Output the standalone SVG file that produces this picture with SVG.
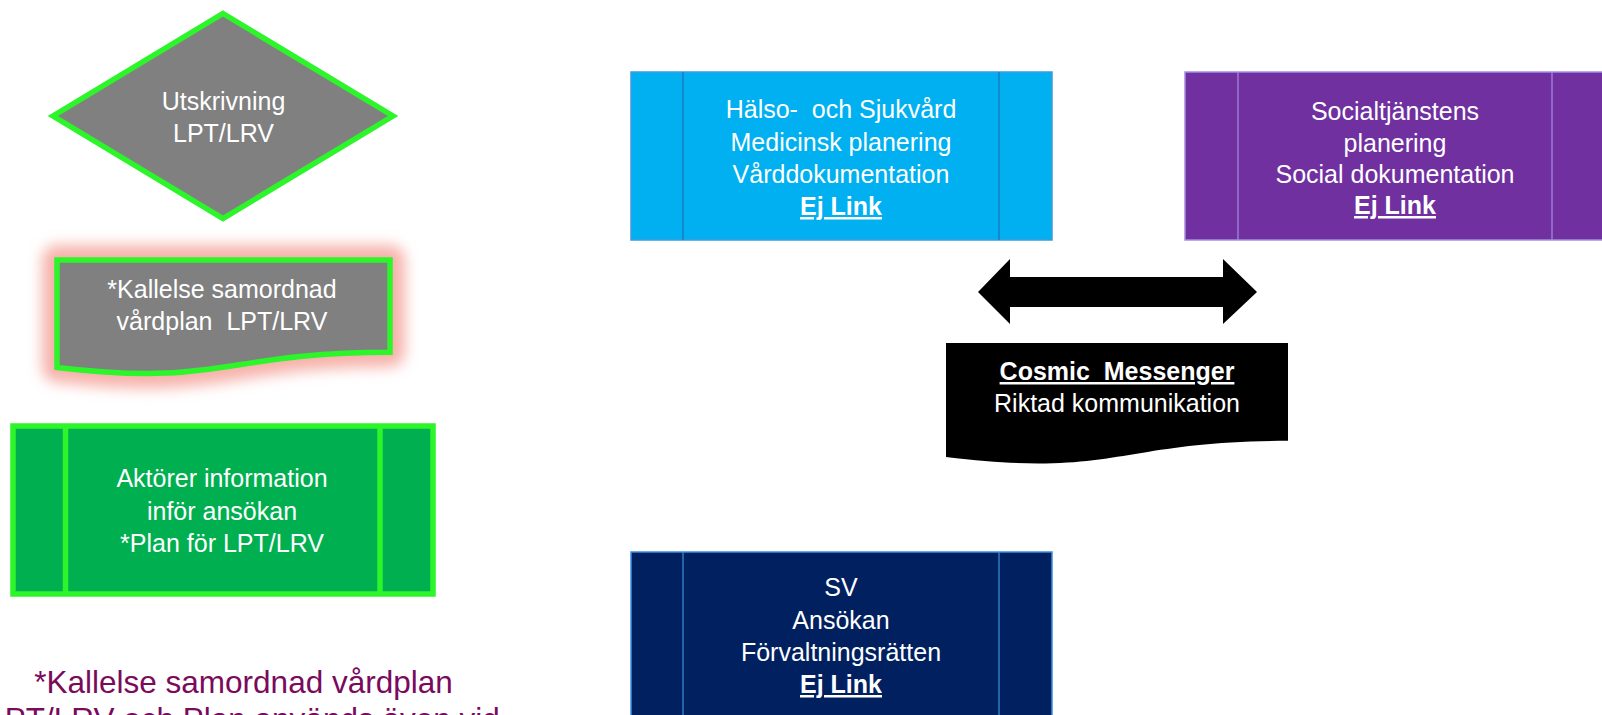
<svg xmlns="http://www.w3.org/2000/svg" width="1602" height="715" viewBox="0 0 1602 715">
<defs>
<style>
text{font-family:"Liberation Sans",Arial,sans-serif;font-size:25px;fill:#fff;text-anchor:middle}
.b{font-weight:bold;text-decoration:underline}
.gs{stroke:#2CF52A;stroke-width:5.5}
.note{fill:#7A0A5C;font-size:31.5px}
</style>
<filter id="glow" x="-20%" y="-40%" width="140%" height="180%">
<feGaussianBlur stdDeviation="7"/>
</filter>
</defs>
<rect width="1602" height="715" fill="#fff"/>

<g id="node-utskrivning">
<polygon points="223,13.5 393,116 223,218.5 53,116" fill="#808080" class="gs"/>
<text x="223.5" y="110">Utskrivning</text>
<text x="223.5" y="142">LPT/LRV</text>
</g>

<g id="node-kallelse">
<path d="M57,260 H390 V352.2 C223.5,352.2 223.5,387.3 57,367.4 Z" fill="#F6B3AB" stroke="#F6B3AB" stroke-width="30" stroke-linejoin="round" filter="url(#glow)"/>
<path d="M57,260 H390 V352.2 C223.5,352.2 223.5,387.3 57,367.4 Z" fill="#808080" class="gs"/>
<text x="222" y="298">*Kallelse samordnad</text>
<text x="222" y="330" xml:space="preserve">vårdplan  LPT/LRV</text>
</g>

<g id="node-aktorer">
<rect x="13" y="426" width="420" height="168" fill="#00B050" class="gs"/>
<line x1="65.5" y1="426" x2="65.5" y2="594" class="gs"/>
<line x1="380" y1="426" x2="380" y2="594" class="gs"/>
<text x="222" y="487">Aktörer information</text>
<text x="222" y="520">inför ansökan</text>
<text x="222" y="552">*Plan för LPT/LRV</text>
</g>

<g id="node-note">
<text class="note" x="243.5" y="693">*Kallelse samordnad vårdplan</text>
<text class="note" x="243.5" y="729.5">LPT/LRV och Plan används även vid</text>
</g>

<g id="node-halso">
<rect x="631" y="72" width="421" height="168" fill="#00B0F0" stroke="#3F9BDD" stroke-width="1.5"/>
<line x1="683" y1="72" x2="683" y2="240" stroke="#2370B8" stroke-width="1.2"/>
<line x1="999" y1="72" x2="999" y2="240" stroke="#2370B8" stroke-width="1.2"/>
<text x="841" y="118" xml:space="preserve">Hälso-  och Sjukvård</text>
<text x="841" y="151">Medicinsk planering</text>
<text x="841" y="183">Vårddokumentation</text>
<text x="841" y="215" class="b">Ej Link</text>
</g>

<g id="node-social">
<rect x="1185" y="72" width="425" height="168" fill="#7030A0" stroke="#A48FE0" stroke-width="1.5"/>
<line x1="1238" y1="72" x2="1238" y2="240" stroke="#A48FE0" stroke-width="1.2"/>
<line x1="1552" y1="72" x2="1552" y2="240" stroke="#A48FE0" stroke-width="1.2"/>
<text x="1395" y="120">Socialtjänstens</text>
<text x="1395" y="152">planering</text>
<text x="1395" y="183">Social dokumentation</text>
<text x="1395" y="214" class="b">Ej Link</text>
</g>

<g id="node-cosmic">
<path d="M946,343 H1288 V440.8 C1117,440.8 1117,478.1 946,456.9 Z" fill="#000"/>
<text x="1117" y="380" class="b" xml:space="preserve">Cosmic  Messenger</text>
<text x="1117" y="412">Riktad kommunikation</text>
</g>

<g id="node-sv">
<rect x="631" y="552" width="421" height="180" fill="#002060" stroke="#3D8FDD" stroke-width="1.5"/>
<line x1="683" y1="552" x2="683" y2="732" stroke="#3D8FDD" stroke-width="1.2"/>
<line x1="999" y1="552" x2="999" y2="732" stroke="#3D8FDD" stroke-width="1.2"/>
<text x="841" y="596">SV</text>
<text x="841" y="629">Ansökan</text>
<text x="841" y="661">Förvaltningsrätten</text>
<text x="841" y="693" class="b">Ej Link</text>
</g>

<g id="connectors">
<polygon points="978,292 1010,259 1010,277 1223,277 1223,259 1257,292 1223,324 1223,307 1010,307 1010,324" fill="#000"/>
</g>
</svg>
